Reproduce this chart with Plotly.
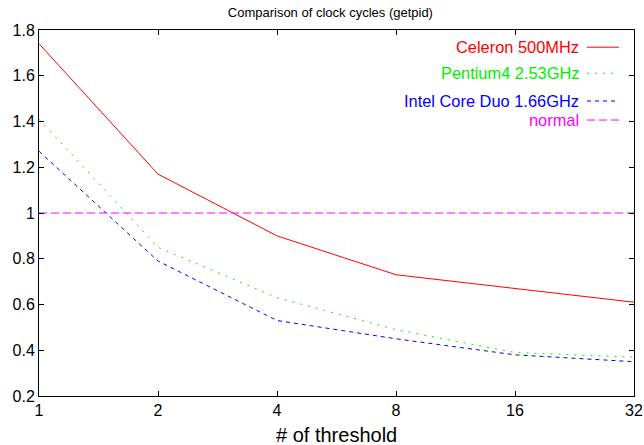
import plotly.graph_objects as go

thresholds = [1, 2, 4, 8, 16, 32]
celeron = [1.74, 1.17, 0.90, 0.73, 0.67, 0.61]
pentium4 = [1.41, 0.85, 0.63, 0.49, 0.39, 0.37]
core_duo = [1.27, 0.79, 0.53, 0.45, 0.38, 0.35]
normal = [1.0, 1.0, 1.0, 1.0, 1.0, 1.0]

x_ticks = [1, 2, 4, 8, 16, 32]
x_ticktext = ["1", "2", "4", "8", "16", "32"]
y_ticks = [0.2, 0.4, 0.6, 0.8, 1.0, 1.2, 1.4, 1.6, 1.8]
y_ticktext = ["0.2", "0.4", "0.6", "0.8", "1", "1.2", "1.4", "1.6", "1.8"]

series = [
    ("Celeron 500MHz", celeron, "#ff0000", "solid"),
    ("Pentium4 2.53GHz", pentium4, "#00ee00", "2px,6px"),
    ("Intel Core Duo 1.66GHz", core_duo, "#0000ff", "4px,4px"),
    ("normal", normal, "#ff00ff", "8px,4px"),
]

FONT = "Liberation Sans, Helvetica, Arial, sans-serif"

fig = go.Figure()
for name, vals, color, dash in series:
    fig.add_trace(go.Scatter(x=thresholds, y=vals, mode="lines", name=name,
                             line=dict(color=color, width=1, dash=dash),
                             showlegend=False))

# gnuplot-style legend: right-aligned text with sample line on the right
legend_y = [0.953, 0.882, 0.806, 0.754]
for (name, vals, color, dash), ly in zip(series, legend_y):
    fig.add_annotation(xref="paper", yref="paper", x=0.908, y=ly, text=name,
                       showarrow=False, xanchor="right", yanchor="middle",
                       xshift=2, font=dict(family=FONT, size=16.4, color=color))
    fig.add_shape(type="line", xref="paper", yref="paper",
                  x0=0.921, x1=0.975, y0=ly, y1=ly,
                  line=dict(color=color, width=1, dash=dash))

# x axis title
fig.add_annotation(xref="paper", yref="paper", x=0.5, y=-0.107, text="# of threshold",
                   showarrow=False, xanchor="center", yanchor="middle",
                   font=dict(family=FONT, size=20, color="black"))

axis_common = dict(showline=True, linecolor="black", linewidth=1, mirror="ticks",
                   ticks="inside", ticklen=5, tickcolor="black", showgrid=False,
                   zeroline=False, automargin=False,
                   tickfont=dict(family=FONT, size=16, color="black"))

fig.update_xaxes(type="log", range=[0, 1.50515], tickvals=x_ticks, ticktext=x_ticktext,
                 ticklabeloverflow="allow", **axis_common)
fig.update_yaxes(range=[0.2, 1.8], tickvals=y_ticks, ticktext=y_ticktext, **axis_common)

fig.update_layout(
    width=644, height=445,
    margin=dict(l=39, r=10, t=30, b=49, autoexpand=False),
    paper_bgcolor="white", plot_bgcolor="white",
    title=dict(text="Comparison of clock cycles (getpid)", x=0.513, xanchor="center",
               xref="container", yref="container",
               y=1 - 12.5 / 445, yanchor="middle",
               font=dict(family=FONT, size=13, color="black")),
)

fig.write_html("out.html",
               config={"displayModeBar": False},
               post_script="document.body.style.margin='0';"
                           "document.body.style.overflow='hidden';")
